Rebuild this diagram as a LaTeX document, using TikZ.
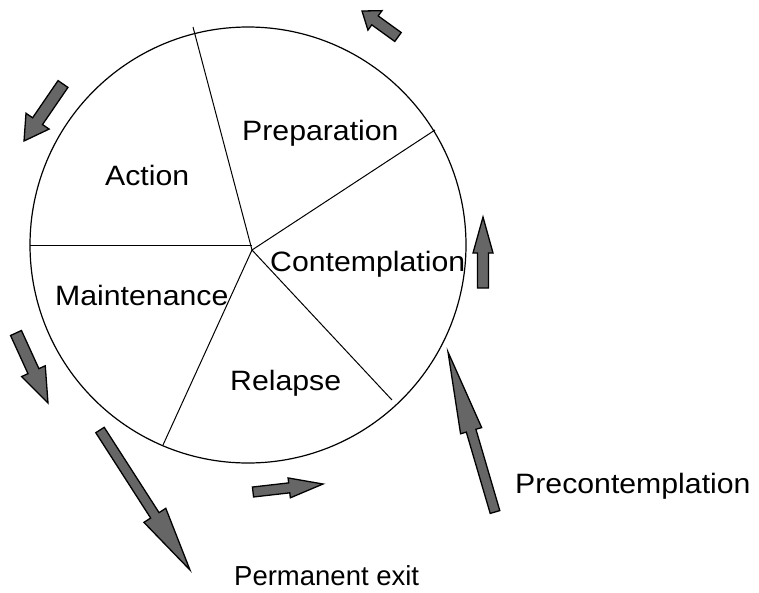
\documentclass[tikz,border=0pt]{standalone}
\usepackage{fontspec}
\setmainfont{Liberation Sans}[FakeStretch=1.08]
\newfontfamily\plainsans{Liberation Sans}
\newcommand\barrow[7]{%
  \pgfmathsetmacro\baang{atan2(-(#4-(#2)),#3-(#1))}%
  \pgfmathsetmacro\balen{veclen(#3-(#1),#4-(#2))}%
  \begin{scope}[shift={(#1,#2)},rotate=\baang]
    \draw[blockarr] (0,#5/2) -- (\balen-#7,#5/2) -- (\balen-#7,#6/2) -- (\balen,0)
      -- (\balen-#7,-#6/2) -- (\balen-#7,-#5/2) -- (0,-#5/2) -- cycle;
  \end{scope}}
\begin{document}
\begin{tikzpicture}[x=1pt,y=-1pt,
  lbl/.style={font=\fontsize{28}{34}\selectfont,anchor=base west,inner sep=0pt},
  blockarr/.style={draw=black,fill=black!60,line width=1.3pt,line join=miter},
  spoke/.style={draw=black,line width=1pt}]
\useasboundingbox (0,0) rectangle (759,592);
\node[circle,draw,line width=1.2pt,minimum size=436pt,inner sep=0pt] (c) at (248,245) {};
\coordinate (hub) at (252,250);
\coordinate (s1) at (193,27);
\coordinate (s2) at (435,130);
\coordinate (s3) at (30,245);
\coordinate (s4) at (163,445);
\coordinate (s5) at (392,400);
\draw[spoke] (hub) -- (s1);
\draw[spoke] (hub) -- (s2);
\draw[spoke] (252,245) -- (s3);
\draw[spoke] (hub) -- (s4);
\draw[spoke] (hub) -- (s5);
\node[lbl] (prep) at (242,140) {Preparation};
\node[lbl] (act) at (105,185) {Action};
\node[lbl] (cont) at (270,271) {Contemplation};
\node[lbl] (main) at (55,305) {Maintenance};
\node[lbl] (rel) at (230,390) {Relapse};
\node[lbl] (pre) at (515,493) {Precontemplation};
\node[lbl,font=\plainsans\fontsize{27.5}{34}\selectfont] (exit) at (234,585) {Permanent exit};
\barrow{398}{37}{362}{11}{11}{24}{16}
\barrow{63}{84}{24}{141}{12}{28}{24}
\barrow{483}{288}{483}{217}{11}{20}{36}
\barrow{16}{333}{48}{403}{12}{26}{35}
\barrow{100}{430}{190}{570}{10}{26}{65}
\barrow{253}{492}{323}{484}{10}{20}{34}
\barrow{495}{512}{448}{352}{10}{22}{82}
\end{tikzpicture}
\end{document}
